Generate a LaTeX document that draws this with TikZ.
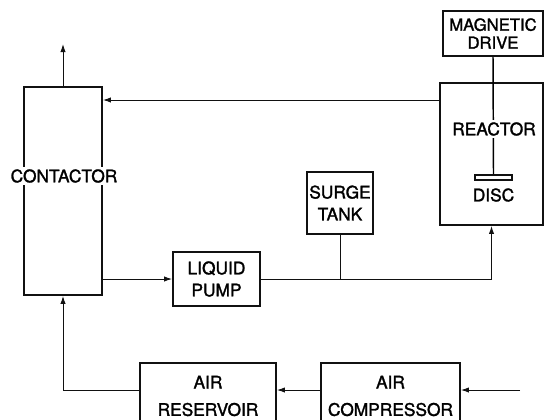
\documentclass[tikz,border=0pt]{standalone}
\usepackage{fontspec}
\setmainfont{TeX Gyre Heros}[FakeBold=1.6]
\usepackage{xcolor}
\usepackage{tikz}
\usetikzlibrary{calc,positioning,arrows.meta}
\definecolor{PlantInk}{HTML}{111111}
\tikzset{
  block/.style={draw=PlantInk, line width=1.4pt, align=center, inner sep=0pt,
    font=\fontsize{13}{16.5}\selectfont},
  flow/.style={draw=PlantInk, line width=0.7pt, -{Latex[length=6pt,width=4pt]}},
  pipe/.style={draw=PlantInk, line width=0.7pt},
  lbl/.style={fill=white, inner sep=1.5pt, font=\fontsize{13}{16.5}\selectfont}
}

\begin{document}
\begin{tikzpicture}[x=0.75pt,y=-0.75pt]
  \useasboundingbox (0,0) rectangle (545,419);

  % blocks
  \node[block, minimum width=78pt*0.75, minimum height=208pt*0.75] (contactor) at (63,191) {};
  \node[lbl] (contactorlbl) at (64,176) {CONTACTOR};
  \node[block, minimum width=103pt*0.75, minimum height=142pt*0.75] (reactor) at (491.5,154) {};
  \node[block, minimum width=100pt*0.75, minimum height=45pt*0.75,
    font=\fontsize{12.5}{16.5}\selectfont] (magdrive) at (493,33.5) {MAGNETIC\\[-3pt]DRIVE};
  \node[draw=PlantInk, line width=1.1pt, minimum width=37pt*0.75, minimum height=5pt*0.75, inner sep=0pt] (disc) at (493.5,177.5) {};
  \node[lbl, fill=none] (disclbl) at (493.5,195) {DISC};
  \node[block, minimum width=87pt*0.75, minimum height=54pt*0.75] (pump) at (216.5,279) {LIQUID\\PUMP};
  \node[block, minimum width=66pt*0.75, minimum height=62pt*0.75] (surge) at (340,203) {SURGE\\TANK};
  \node[block, minimum width=136pt*0.75, minimum height=66pt*0.75] (reservoir) at (208,396) {AIR\\[4pt]RESERVOIR};
  \node[block, minimum width=139pt*0.75, minimum height=66pt*0.75] (compressor) at (390.5,396) {AIR\\[4pt]COMPRESSOR};

  \coordinate (gasout) at (63,44);
  \coordinate (airin) at (520,390);

  % shaft
  \draw[line width=1.1pt] (magdrive.south) -- (disc.north);
  \node[lbl] (reactorlbl) at (494,129) {REACTOR};

  % connectors
  \draw[flow] (contactor.north) -- (gasout);
  \draw[flow] (reactor.west |- 0,100) -- (contactor.east |- 0,100);
  \draw[flow] (contactor.east |- pump.west) -- (pump.west);
  \draw[flow] (pump.east) -| (reactor.south);
  \draw[pipe] (surge.south) -- (surge.south |- pump.east);
  \draw[flow] (airin) -- (compressor.east |- airin);
  \draw[flow] (compressor.west |- airin) -- (reservoir.east |- airin);
  \draw[flow] (reservoir.west |- airin) -| (contactor.south);
\end{tikzpicture}
\end{document}
